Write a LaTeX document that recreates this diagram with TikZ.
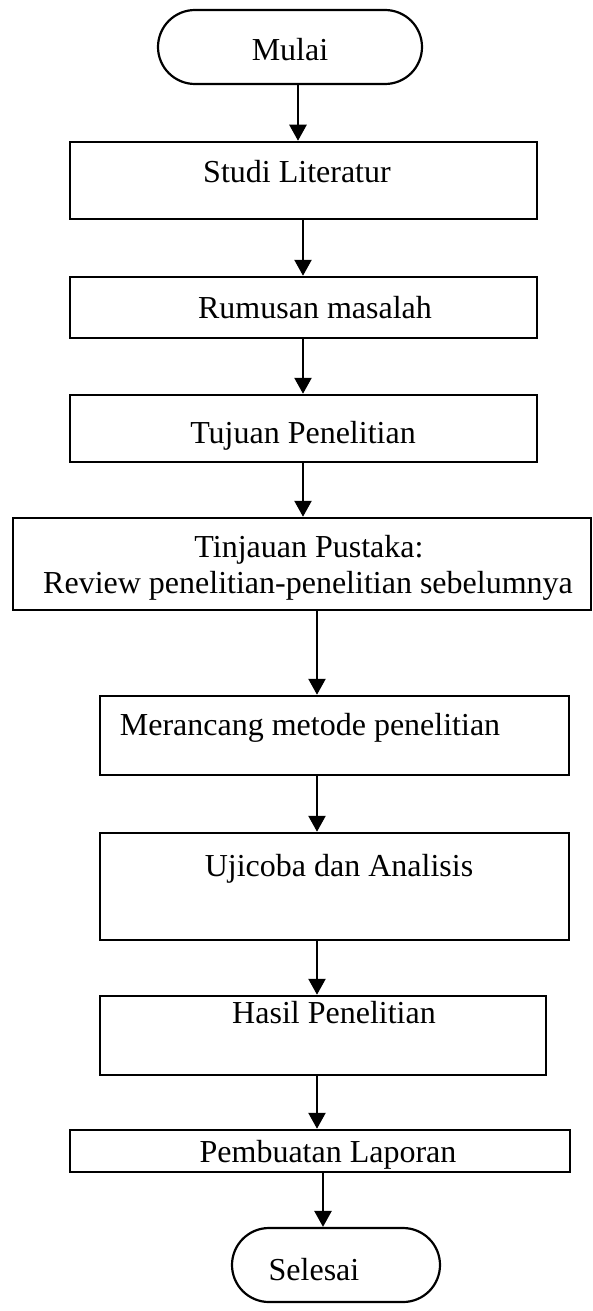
\documentclass[tikz,border=0pt]{standalone}
\usepackage{fontspec}
\setmainfont{Liberation Serif}
\usetikzlibrary{arrows.meta}
\begin{document}
\begin{tikzpicture}[x=0.5pt,y=-0.5pt,
  box/.style={draw,line width=1.25pt,rectangle,inner sep=0pt},
  term/.style={draw,line width=1.1pt,rectangle,rounded corners=18.5pt,inner sep=0pt,minimum height=37pt},
  lbl/.style={anchor=base,inner sep=0pt,font=\fontsize{16}{19}\selectfont},
  arr/.style={line width=1.25pt,-{Triangle[width=8.5pt,length=8pt]}}]
\useasboundingbox (0,0) rectangle (593,1311);

% terminals and process boxes
\node[term,minimum width=132pt] (mulai) at (290,47) {};
\node[box,minimum width=233.5pt,minimum height=38.5pt] (studi) at (303.5,180.5) {};
\node[box,minimum width=233.5pt,minimum height=30.5pt] (rumusan) at (303.5,307.5) {};
\node[box,minimum width=233.5pt,minimum height=33.5pt] (tujuan) at (303.5,428.5) {};
\node[box,minimum width=289pt,minimum height=46pt] (tinjauan) at (302,564) {};
\node[box,minimum width=234.5pt,minimum height=39.5pt] (merancang) at (334.5,735.5) {};
\node[box,minimum width=234.5pt,minimum height=53.5pt] (ujicoba) at (334.5,886.5) {};
\node[box,minimum width=223pt,minimum height=39.5pt] (hasil) at (323,1035.5) {};
\node[box,minimum width=250pt,minimum height=21pt] (laporan) at (320,1151) {};
\node[term,minimum width=104pt] (selesai) at (336,1265) {};

% texts
\node[lbl] (tmulai) at (290,61) {Mulai};
\node[lbl] (tstudi) at (297,183) {Studi Literatur};
\node[lbl] (trumusan) at (315,318) {Rumusan masalah};
\node[lbl] (ttujuan) at (303,443) {Tujuan Penelitian};
\node[lbl] (ttinjauan1) at (309,557) {Tinjauan Pustaka:};
\node[lbl] (ttinjauan2) at (308,593) {Review penelitian-penelitian sebelumnya};
\node[lbl] (tmerancang) at (310,735) {Merancang metode penelitian};
\node[lbl] (tujicoba) at (339,876) {Ujicoba dan Analisis};
\node[lbl] (thasil) at (334,1023) {Hasil Penelitian};
\node[lbl] (tlaporan) at (328,1162) {Pembuatan Laporan};
\node[lbl] (tselesai) at (314,1280) {Selesai};

% connector columns
\coordinate (c1) at (298,0);
\coordinate (c2) at (303,0);
\coordinate (c3) at (317,0);
\coordinate (c4) at (323,0);

\draw[arr] (mulai.south -| c1) -- (studi.north -| c1);
\draw[arr] (studi.south -| c2) -- (rumusan.north -| c2);
\draw[arr] (rumusan.south -| c2) -- (tujuan.north -| c2);
\draw[arr] (tujuan.south -| c2) -- (tinjauan.north -| c2);
\draw[arr] (tinjauan.south -| c3) -- (merancang.north -| c3);
\draw[arr] (merancang.south -| c3) -- (ujicoba.north -| c3);
\draw[arr] (ujicoba.south -| c3) -- (hasil.north -| c3);
\draw[arr] (hasil.south -| c3) -- (laporan.north -| c3);
\draw[arr] (laporan.south -| c4) -- (selesai.north -| c4);
\end{tikzpicture}
\end{document}
